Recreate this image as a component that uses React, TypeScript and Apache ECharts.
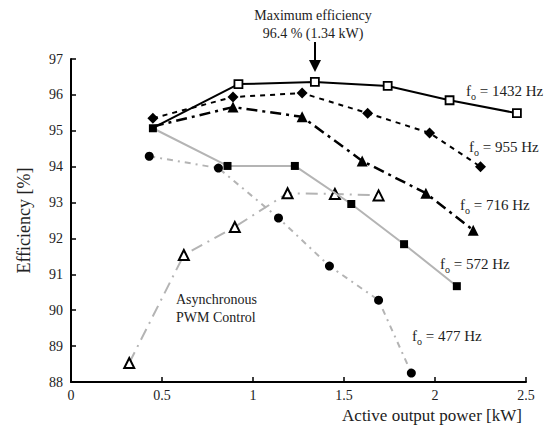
import React, { useEffect, useRef } from "react";
import * as echarts from "echarts";

const xTicks = [0, 0.5, 1, 1.5, 2, 2.5];
const yTicks = [88, 89, 90, 91, 92, 93, 94, 95, 96, 97];

const f1432: [number, number][] = [[0.45, 95.08], [0.92, 96.3], [1.34, 96.36], [1.74, 96.25], [2.08, 95.85], [2.45, 95.49]];
const f955: [number, number][] = [[0.45, 95.35], [0.89, 95.94], [1.27, 96.05], [1.63, 95.49], [1.97, 94.94], [2.25, 94.0]];
const f716: [number, number][] = [[0.45, 95.12], [0.89, 95.66], [1.27, 95.39], [1.6, 94.16], [1.95, 93.26], [2.21, 92.23]];
const f572: [number, number][] = [[0.45, 95.07], [0.86, 94.02], [1.23, 94.02], [1.54, 92.96], [1.83, 91.84], [2.12, 90.67]];
const f477: [number, number][] = [[0.43, 94.29], [0.81, 93.96], [1.14, 92.57], [1.42, 91.23], [1.69, 90.28], [1.87, 88.25]];
const async: [number, number][] = [[0.32, 88.53], [0.62, 91.54], [0.9, 92.32], [1.19, 93.26], [1.45, 93.24], [1.69, 93.2]];

const FONT = "'Liberation Serif', 'Times New Roman', serif";
const GRAY = "#b4b4b4";

function fLabel(freq: string, x: number, y: number) {
  return {
    type: "text",
    x,
    y,
    style: {
      text: `{a|f}{s|o}{a| = ${freq} Hz}`,
      fill: "#222",
      font: `15px ${FONT}`,
      verticalAlign: "middle",
      rich: {
        a: { fontFamily: FONT, fontSize: 15, fill: "#222", lineHeight: 18, verticalAlign: "bottom" },
        s: { fontFamily: FONT, fontSize: 10, fill: "#222", lineHeight: 18, verticalAlign: "bottom", padding: [0, 0, -3, 0] },
      },
    },
  };
}

export default function App() {
  const ref = useRef<HTMLDivElement>(null);
  useEffect(() => {
    if (!ref.current) return;
    const chart = echarts.init(ref.current, undefined, { renderer: "svg" });
    const line = (data: any[], color: string, width: number, type: any, symbol: string, size: number, fill: string, border: string, bw: number, z: number) => ({
      type: "line",
      data,
      z,
      symbol,
      symbolSize: size,
      showAllSymbol: true,
      lineStyle: { color, width, type },
      itemStyle: { color: fill, borderColor: border, borderWidth: bw },
      emphasis: { disabled: true },
    });
    // the first markers of these series are hidden under the shared filled square at the start
    const hideFirst = (arr: [number, number][]) => arr.map((p, i) => (i === 0 ? { value: p, symbolSize: 0 } : p));
    chart.setOption({
      animation: false,
      backgroundColor: "#fff",
      textStyle: { fontFamily: FONT },
      grid: { left: 71, right: 29, top: 59, bottom: 55, outerBoundsMode: "none", containLabel: false },
      xAxis: {
        type: "value",
        min: xTicks[0],
        max: xTicks[xTicks.length - 1],
        interval: 0.5,
        axisLine: { show: true, onZero: false, lineStyle: { color: "#000", width: 2 } },
        axisTick: { show: true, inside: true, length: 5, lineStyle: { color: "#000", width: 1.5 } },
        axisLabel: { color: "#222", fontSize: 14, fontFamily: FONT, margin: 6 },
        splitLine: { show: false },
      },
      yAxis: {
        type: "value",
        min: yTicks[0],
        max: yTicks[yTicks.length - 1],
        interval: 1,
        name: "Efficiency [%]",
        nameLocation: "middle",
        nameGap: 38,
        nameTextStyle: { color: "#222", fontSize: 18, fontFamily: FONT },
        axisLine: { show: true, lineStyle: { color: "#000", width: 2 } },
        axisTick: { show: true, inside: true, length: 5, lineStyle: { color: "#000", width: 1.5 } },
        axisLabel: { color: "#222", fontSize: 14, fontFamily: FONT, margin: 8 },
        splitLine: { show: false },
      },
      series: [
        line(async, GRAY, 2, [12, 6, 2, 6], "triangle", 10, "#fff", "#000", 2, 2),
        line(f477, GRAY, 2, [6, 5, 2, 5], "circle", 9, "#000", "#000", 0, 2),
        line(f572, GRAY, 2, "solid", "rect", 8, "#000", "#000", 0, 3),
        line(hideFirst(f716), "#000", 2.5, [11, 5, 3, 5], "triangle", 11, "#000", "#000", 0, 4),
        line(f955, "#000", 2, [5, 5], "diamond", 11, "#000", "#000", 0, 5),
        line(hideFirst(f1432), "#000", 2, "solid", "rect", 8, "#fff", "#000", 1.8, 6),
      ],
      graphic: [
        { type: "text", x: 313, y: 15, style: { text: "Maximum efficiency", font: `14px ${FONT}`, fill: "#222", align: "center", verticalAlign: "middle" } },
        { type: "text", x: 313, y: 33, style: { text: "96.4 % (1.34 kW)", font: `14px ${FONT}`, fill: "#222", align: "center", verticalAlign: "middle" } },
        { type: "line", shape: { x1: 315, y1: 42, x2: 315, y2: 62 }, style: { stroke: "#000", lineWidth: 2 } },
        { type: "polygon", shape: { points: [[309, 60], [321, 60], [315, 72]] }, style: { fill: "#000" } },
        fLabel("1432", 466, 89),
        fLabel("955", 469, 145),
        fLabel("716", 460, 203),
        fLabel("572", 440, 262),
        fLabel("477", 412, 334),
        { type: "text", x: 176, y: 299, style: { text: "Asynchronous", font: `14px ${FONT}`, fill: "#222", verticalAlign: "middle" } },
        { type: "text", x: 176, y: 317, style: { text: "PWM Control", font: `14px ${FONT}`, fill: "#222", verticalAlign: "middle" } },
        { type: "text", x: 432, y: 415, style: { text: "Active output power [kW]", font: `17px ${FONT}`, fill: "#222", align: "center", verticalAlign: "middle" } },
      ],
    });
    return () => chart.dispose();
  }, []);
  return <div ref={ref} style={{ position: "fixed", left: 0, top: 0, width: 555, height: 437 }} />;
}
